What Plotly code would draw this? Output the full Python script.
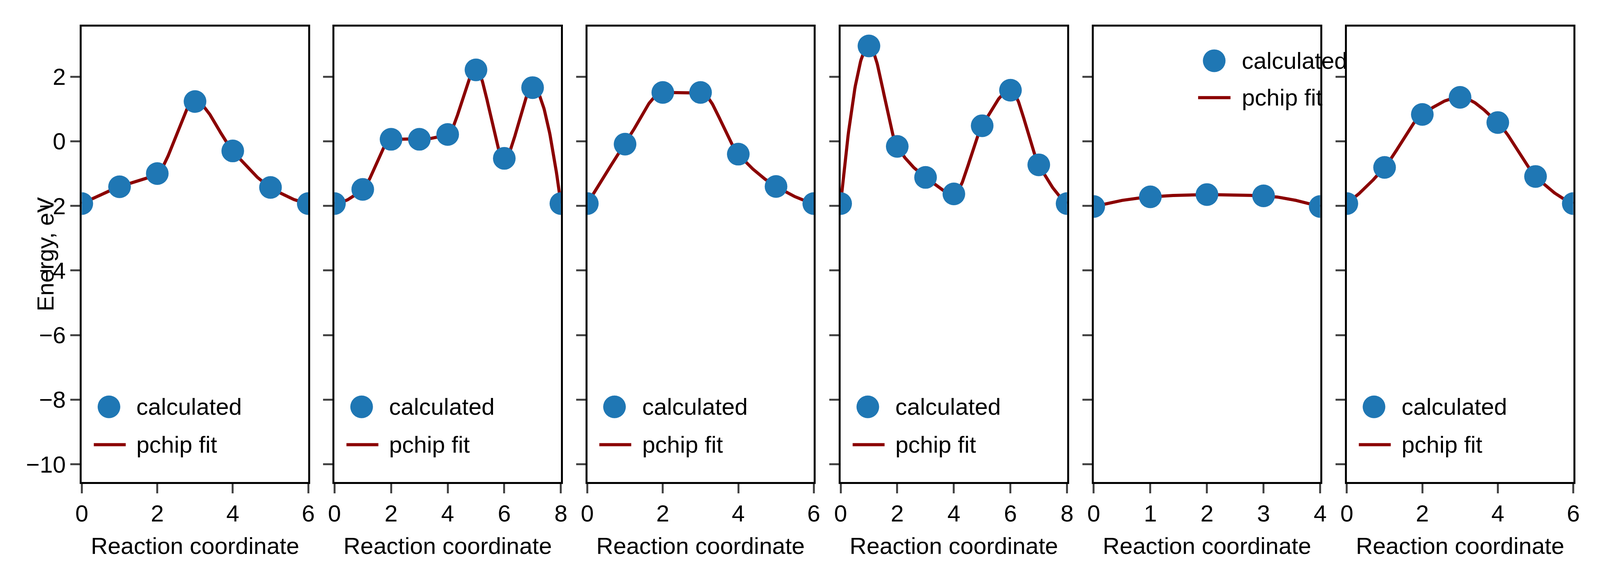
import numpy as np
import plotly.graph_objects as go

# calculated energies (eV) for each band, reaction coordinate = image index
energies_1 = [-1.93, -1.41, -1.00, 1.23, -0.30, -1.43, -1.93]
energies_2 = [-1.93, -1.49, 0.06, 0.06, 0.21, 2.21, -0.53, 1.66, -1.93]
energies_3 = [-1.93, -0.09, 1.51, 1.51, -0.40, -1.40, -1.93]
energies_4 = [-1.93, 2.95, -0.16, -1.12, -1.63, 0.48, 1.58, -0.73, -1.93]
energies_5 = [-2.02, -1.72, -1.65, -1.69, -2.02]
energies_6 = [-1.93, -0.81, 0.83, 1.36, 0.58, -1.09, -1.93]
bands = [energies_1, energies_2, energies_3, energies_4, energies_5, energies_6]
legend_top = [False, False, False, False, True, False]

W, H = 7175, 1476
left_px = [327, 1474, 2622, 3772, 4921, 6070]
panel_w = 1028
FONT = "Liberation Sans, Arial, sans-serif"
FS = 60
BLUE = "#1f77b4"
RED = "#8b0000"


def edge(h0, h1, m0, m1):
    d = ((2 * h0 + h1) * m0 - h0 * m1) / (h0 + h1)
    if np.sign(d) != np.sign(m0):
        d = 0.0
    elif np.sign(m0) != np.sign(m1) and abs(d) > abs(3 * m0):
        d = 3 * m0
    return d


def pchip(x, y, xn):
    x = np.asarray(x, float); y = np.asarray(y, float)
    h = np.diff(x); m = np.diff(y) / h
    d = np.zeros_like(y)
    for k in range(1, len(x) - 1):
        if m[k - 1] * m[k] <= 0:
            d[k] = 0.0
        else:
            w1 = 2 * h[k] + h[k - 1]; w2 = h[k] + 2 * h[k - 1]
            d[k] = (w1 + w2) / (w1 / m[k - 1] + w2 / m[k])
    d[0] = edge(h[0], h[1], m[0], m[1])
    d[-1] = edge(h[-1], h[-2], m[-1], m[-2])
    idx = np.clip(np.searchsorted(x, xn) - 1, 0, len(x) - 2)
    t = (xn - x[idx]) / h[idx]
    h00 = 2 * t**3 - 3 * t**2 + 1; h10 = t**3 - 2 * t**2 + t
    h01 = -2 * t**3 + 3 * t**2; h11 = t**3 - t**2
    return (h00 * y[idx] + h10 * h[idx] * d[idx] + h01 * y[idx + 1]
            + h11 * h[idx] * d[idx + 1])


fig = go.Figure()
shapes, annotations = [], []
for i, e in enumerate(bands):
    n = i + 1
    xs = np.arange(len(e))
    xf = np.linspace(0, len(e) - 1, 400)
    xa = "x" if n == 1 else f"x{n}"
    ya = "y" if n == 1 else f"y{n}"
    fig.add_trace(go.Scatter(x=xf, y=pchip(xs, e, xf), mode="lines",
                             line=dict(color=RED, width=8), xaxis=xa, yaxis=ya,
                             showlegend=False, cliponaxis=True))
    fig.add_trace(go.Scatter(x=xs, y=e, mode="markers",
                             marker=dict(color=BLUE, size=58), xaxis=xa, yaxis=ya,
                             showlegend=False, cliponaxis=True))
    x0 = left_px[i] / W
    ax = dict(domain=[x0, x0 + panel_w / W], range=[0, len(e) - 1],
              dtick=1 if len(e) == 5 else 2, showline=True, mirror=True,
              linecolor="black", linewidth=5, ticks="outside", ticklen=24,
              tickwidth=5, showgrid=False, zeroline=False, anchor=ya,
              tickfont=dict(family=FONT, size=FS, color="black"),
              title=dict(text="Reaction coordinate", standoff=30,
                         font=dict(family=FONT, size=FS, color="black")))
    ay = dict(anchor=xa, range=[-10.55, 3.55], dtick=2, showline=True,
              mirror=True, linecolor="black", linewidth=5, ticks="outside",
              ticklen=24, tickwidth=5, showgrid=False, zeroline=False,
              showticklabels=(n == 1),
              tickfont=dict(family=FONT, size=FS, color="black"))
    if n > 1:
        ay["matches"] = "y"
    fig.update_layout({("xaxis" if n == 1 else f"xaxis{n}"): ax,
                       ("yaxis" if n == 1 else f"yaxis{n}"): ay})

    # legend drawn in axis-domain coordinates
    if legend_top[i]:
        mx, l0, l1, tx, y1, y2 = 0.532, 0.461, 0.604, 0.65, 0.925, 0.844
    else:
        mx, l0, l1, tx, y1, y2 = 0.12, 0.053, 0.194, 0.238, 0.165, 0.082
    xr, yr = f"{xa} domain", f"{ya} domain"
    shapes.append(dict(type="circle", xref=xr, yref=yr, xsizemode="pixel",
                       ysizemode="pixel", xanchor=mx, yanchor=y1,
                       x0=-29, x1=29, y0=-29, y1=29, fillcolor=BLUE,
                       line=dict(width=0)))
    shapes.append(dict(type="line", xref=xr, yref=yr, x0=l0, x1=l1, y0=y2,
                       y1=y2, line=dict(color=RED, width=8)))
    for txt, yy in (("calculated", y1), ("pchip fit", y2)):
        annotations.append(dict(text=txt, xref=xr, yref=yr, x=tx, y=yy,
                                xanchor="left", yanchor="middle", showarrow=False,
                                font=dict(family=FONT, size=FS, color="black")))

annotations.append(dict(text="Energy, eV", xref="paper", yref="paper",
                        x=0, xshift=91, y=0.5, xanchor="center", yanchor="middle",
                        textangle=-90, showarrow=False,
                        font=dict(family=FONT, size=FS, color="black")))
# width left to the window so the whole row of panels fits
fig.update_layout(autosize=True, height=H, margin=dict(l=0, r=0, t=60, b=251),
                  plot_bgcolor="white", paper_bgcolor="white",
                  shapes=shapes, annotations=annotations)
fig.write_html("out.html", default_width="100%", config={"responsive": True})
